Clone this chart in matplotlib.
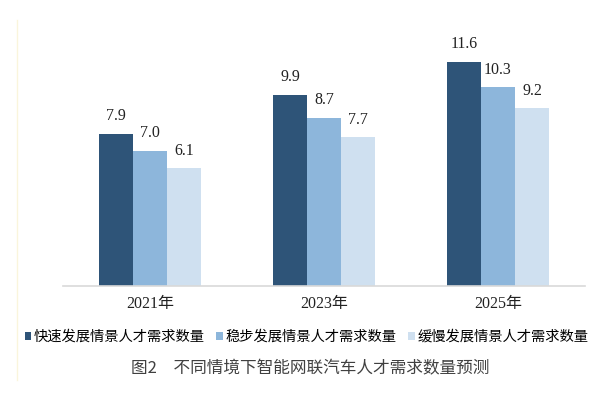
import matplotlib.pyplot as plt
import numpy as np

plt.rcParams['font.family'] = ['Liberation Serif', 'Noto Sans CJK SC']

years = ['2021年', '2023年', '2025年']
fast = [7.9, 9.9, 11.6]
steady = [7.0, 8.7, 10.3]
slow = [6.1, 7.7, 9.2]
series = ['快速发展情景人才需求数量', '稳步发展情景人才需求数量', '缓慢发展情景人才需求数量']
colors = ['#2E5478', '#8DB6DB', '#CFE0F0']

fig = plt.figure(figsize=(6.01, 3.96), dpi=100)
ax = fig.add_axes([0.1048, 0.2778, 0.8686, 0.6434])

x = np.arange(len(years))
w = 0.195
for i, (vals, name, c) in enumerate(zip([fast, steady, slow], series, colors)):
    pos = x + (i - 1) * w
    ax.bar(pos, vals, w, color=c, label=name)
    for p, v in zip(pos, vals):
        ax.text(p, v + 0.5, f'{v:.1f}', ha='center', va='bottom', fontsize=11.5,
                family=['Liberation Serif'], color='#222222')

ax.set_xlim(-0.5, 2.5)
ax.set_ylim(0, 13.2)
ax.set_yticks([])
ax.set_xticks(x)
ax.set_xticklabels(years, fontsize=11.5, color='#222222')
ax.tick_params(axis='x', length=0, pad=7)
for s in ['top', 'right', 'left']:
    ax.spines[s].set_visible(False)
ax.spines['bottom'].set_color('#D9D9D9')
ax.spines['bottom'].set_linewidth(1.2)

# faint left rule
fig.add_artist(plt.Line2D([0.028, 0.028], [0.04, 0.95], color='#FAF5DC', lw=1))

fig.legend(loc='center', bbox_to_anchor=(0.51, 0.149), ncol=3, frameon=False,
           handlelength=0.45, handleheight=0.45, handletextpad=0.2,
           columnspacing=0.8, borderpad=0,
           prop={'family': ['Noto Sans CJK SC'], 'size': 10.3})

fig.text(0.516, 0.068, '图2\u3000不同情境下智能网联汽车人才需求数量预测', ha='center', va='center',
         fontsize=12, color='#404040', family=['Noto Sans CJK SC'])

fig.savefig('out.png', dpi=100)
